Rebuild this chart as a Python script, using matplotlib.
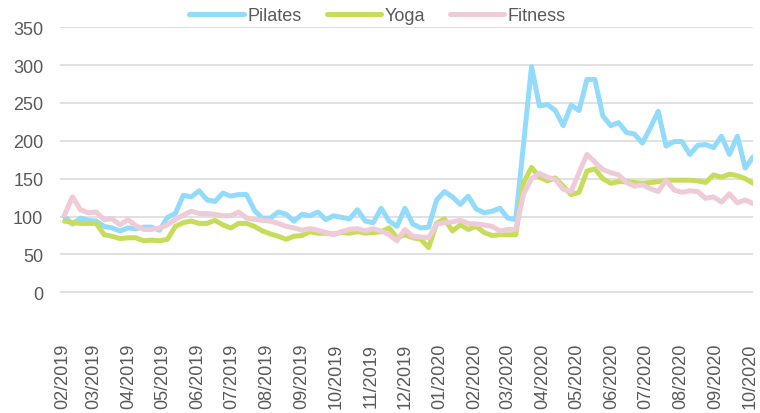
import matplotlib
matplotlib.use('Agg')
import matplotlib.pyplot as plt
import matplotlib.dates as mdates
import pandas as pd

plt.rcParams['font.family'] = ['Liberation Sans', 'DejaVu Sans']

# weekly values, first week of Feb 2019 to first week of Oct 2020
weeks = pd.date_range('2019-02-03', periods=88, freq='7D')

pilates = [100, 90, 98, 95, 94, 87, 85, 81, 85, 84, 86, 86, 82, 99, 104, 128,
           126, 134, 122, 120, 131, 127, 129, 129, 108, 98, 98, 106, 103, 94, 103, 101,
           106, 96, 101, 99, 97, 109, 94, 92, 111, 94, 87, 111, 90, 85, 86, 122,
           133, 126, 116, 127, 110, 105, 107, 111, 98, 96, 197, 298,
           246, 248, 240, 220, 247, 240, 281, 281, 233, 220, 224,
           211, 209, 197, 217, 239, 193, 199, 199, 182, 194, 195, 191, 206, 182, 206, 164, 179]

yoga = [94, 92, 91, 91, 91, 76, 74, 71, 72, 72, 68, 69, 68, 70, 87, 92,
        94, 91, 91, 95, 89, 85, 91, 91, 87, 81, 77, 74, 70, 74, 75, 80,
        78, 78, 77, 79, 78, 80, 78, 79, 80, 85, 72, 76, 72, 70, 59, 91,
        97, 81, 89, 83, 87, 79, 75, 76, 76, 76, 145, 165,
        152, 147, 151, 140, 129, 132, 160, 163, 150, 144, 146,
        146, 145, 144, 145, 146, 148, 148, 148, 148, 147, 145, 155, 152, 156, 154, 150, 144]

fitness = [102, 126, 109, 105, 106, 96, 97, 89, 96, 88, 83, 83, 85, 89, 96, 102,
           107, 104, 104, 103, 101, 101, 106, 98, 96, 95, 94, 91, 87, 85, 82, 84,
           82, 79, 76, 80, 83, 84, 81, 84, 81, 76, 68, 83, 74, 73, 72, 90,
           92, 93, 95, 91, 90, 89, 87, 81, 83, 83, 130, 150,
           157, 152, 149, 136, 133, 158, 182, 172, 162, 158, 155,
           145, 140, 142, 137, 133, 148, 135, 132, 134, 133, 124, 126, 119, 130, 118, 122, 117]

series = [('Pilates', pilates, '#93dbfa'),
          ('Yoga', yoga, '#c8dc5c'),
          ('Fitness', fitness, '#efcbd7')]

fig = plt.figure(figsize=(7.6, 4.14), dpi=100)
ax = fig.add_axes([0.079, 0.200, 0.912, 0.732])

for name, vals, col in series:
    ax.plot(weeks, vals, color=col, lw=3.6, label=name, solid_capstyle='round')

ax.set_ylim(-50, 350)
ax.set_yticks(range(0, 351, 50))
ax.set_xlim(pd.Timestamp('2019-01-30'), pd.Timestamp('2020-10-04'))
ax.xaxis.set_major_locator(mdates.MonthLocator())
ax.xaxis.set_major_formatter(mdates.DateFormatter('%m/%Y'))

ax.grid(axis='y', color='#d9d9d9', lw=1.1)
ax.set_axisbelow(True)
for s in ax.spines.values():
    s.set_visible(False)
ax.tick_params(axis='y', length=0, pad=12, labelsize=13, labelcolor='#595959')
ax.tick_params(axis='x', length=0, pad=9, labelsize=13, labelcolor='#595959', labelrotation=90)

fig.legend(loc='center', bbox_to_anchor=(0.497, 0.959), ncol=3, frameon=False,
           fontsize=13, handlelength=3.0, handletextpad=0.2, columnspacing=1.4,
           labelcolor='#595959')

fig.savefig('out.png', dpi=100)
